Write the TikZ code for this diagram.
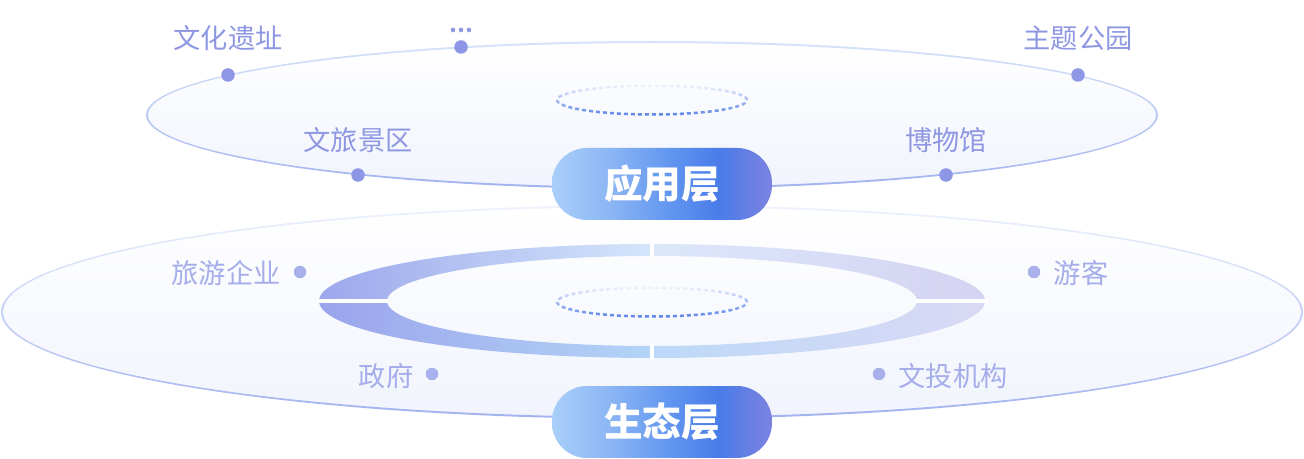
\documentclass[tikz,border=0pt]{standalone}
\usepackage{fontspec}
\setmainfont{Noto Sans CJK SC}
\usepackage{tikz}
\usetikzlibrary{shapes,fadings}
\definecolor{fillbot}{HTML}{F1F4FD}
\definecolor{rimtop}{HTML}{D6E4FA}
\definecolor{rimfaint}{HTML}{EEF3FD}
\definecolor{rimbot}{HTML}{A2B2EF}
\definecolor{dashblue}{HTML}{5A84E8}
\definecolor{tagtop}{HTML}{8E97E2}
\definecolor{tagpale}{HTML}{A5ADEA}
\definecolor{dottop}{HTML}{8D97E6}
\definecolor{dotpale}{HTML}{A9B1EC}
\definecolor{pillA}{HTML}{A9CFF9}
\definecolor{pillB}{HTML}{8CB6F4}
\definecolor{pillC}{HTML}{6195EF}
\definecolor{pillD}{HTML}{4A7CE9}
\definecolor{pillE}{HTML}{7C82DF}
\pgfdeclarehorizontalshading{pillshade}{100bp}{color(0bp)=(pillA); color(25bp)=(pillA); color(38bp)=(pillB); color(52bp)=(pillC); color(63bp)=(pillD); color(75bp)=(pillE); color(100bp)=(pillE)}
\tikzfading[name=fadeup, top color=transparent!94, bottom color=transparent!0]
\tikzstyle{dot}=[circle,fill=dottop,minimum size=0.27cm,inner sep=0pt]
\tikzstyle{dotpale}=[dot,fill=dotpale,minimum size=0.25cm]
\tikzstyle{tag}=[text=tagtop,inner sep=0pt,font=\fontsize{15.5}{16}\selectfont]
\tikzstyle{tagpale}=[tag,text=tagpale]
\tikzstyle{pill}=[shade,shading=pillshade,rounded corners=0.7cm,minimum width=4.4cm,minimum height=1.44cm,text=white,font=\bfseries\fontsize{22}{22}\selectfont]
\tikzstyle{dashring}=[draw=dashblue,line width=0.05cm,dash pattern=on 0.08cm off 0.06cm,path fading=fadeup]

\begin{document}
\begin{tikzpicture}[x=0.02cm,y=0.02cm]
    \useasboundingbox (0,0) rectangle (1304,459);
    % First we draw the two layer discs
    \shade[top color=white, bottom color=fillbot] (652,147) ellipse [x radius=651, y radius=106];
    \shade[top color=white, bottom color=fillbot] (652,344) ellipse [x radius=505, y radius=73];
    % Rims of the discs, light on top and darker below
    \foreach \cx/\cy/\rx/\ry/\ctop in {652/147/650/106/rimfaint, 652/344/505/73/rimtop} {
        \begin{scope}[even odd rule]
            \clip (\cx,\cy) ellipse [x radius=\rx+1, y radius=\ry+1] (\cx,\cy) ellipse [x radius=\rx-1, y radius=\ry-1];
            \shade[top color=\ctop, bottom color=rimbot] (\cx-\rx-2,\cy-\ry-2) rectangle (\cx+\rx+2,\cy+\ry+2);
        \end{scope}
    }
    % The ring of the lower layer, in four parts
    \foreach \a/\b/\cl/\cr in {90/180/9CA7EC/D4E6FB, 0/90/DCE7FB/D5D3F2, 180/270/9AA4EC/B3D4F6, 270/360/BCD9F7/DAD9F5} {
        \definecolor{segl}{HTML}{\cl}
        \definecolor{segr}{HTML}{\cr}
        \shade[left color=segl, right color=segr] ({652+333*cos(\a)},{158+57*sin(\a)}) arc [start angle=\a, end angle=\b, x radius=333, y radius=57]
            -- ({652+265*cos(\b)},{158+45*sin(\b)}) arc [start angle=\b, end angle=\a, x radius=265, y radius=45] -- cycle;
    }
    \draw[white, line width=0.065cm] (652,217) -- (652,201) (652,99) -- (652,115) (317,158) -- (389,158) (915,158) -- (988,158);
    % Dashed hubs
    \foreach \cy in {359,157}
        \draw[dashring] (652,\cy) ellipse [x radius=95, y radius=14.5];
    % Dots on the upper layer
    \foreach \pos/\name in {{(228,384)/d1}, {(461,412)/d2}, {(1078,384)/d3}, {(358,284)/d4}, {(946,284)/d5}}
        \node[dot] (\name) at \pos {};
    \foreach \pos/\name/\txt in {{(228,421)/t1/文化遗址}, {(1078,421)/t3/主题公园}, {(358,319)/t4/文旅景区}, {(946,319)/t5/博物馆}}
        \node[tag] (\name) at \pos {\txt};
    \node[tag, font=\bfseries\fontsize{12}{12}\selectfont] (t2) at (461,429) {…};
    % Dots on the lower layer
    \foreach \pos/\name in {{(300,187)/e1}, {(432,85)/e2}, {(1034,187)/e3}, {(879,85)/e4}}
        \node[dotpale] (\name) at \pos {};
    \foreach \pos/\name/\txt in {{(226,186)/s1/旅游企业}, {(386,83)/s2/政府}, {(1081,186)/s3/游客}, {(953,83)/s4/文投机构}}
        \node[tagpale] (\name) at \pos {\txt};
    % Layer titles
    \node[pill] (app) at (662,275) {应用层};
    \node[pill] (eco) at (662,37) {生态层};
\end{tikzpicture}
\end{document}
